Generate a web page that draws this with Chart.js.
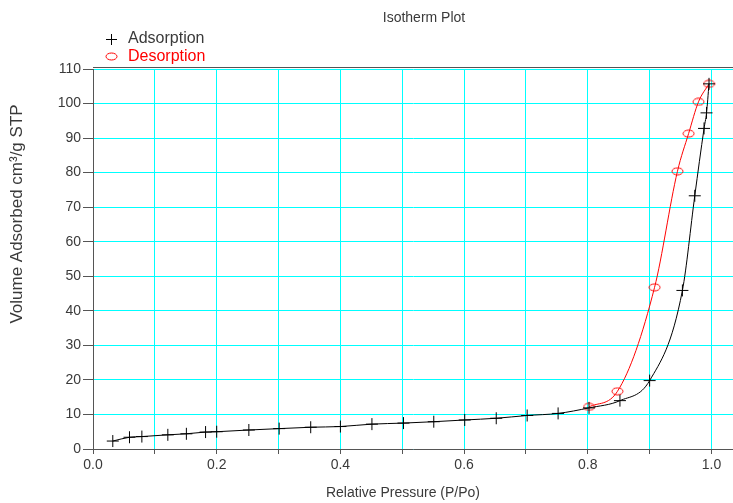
<!DOCTYPE html>
<html>
<head>
<meta charset="utf-8">
<title>Isotherm Plot</title>
<script src="https://cdn.jsdelivr.net/npm/chart.js@4.4.1/dist/chart.umd.min.js"></script>
<style>
    html, body { margin: 0; padding: 0; background: #fff; }
    #wrap { width: 733px; height: 503px; position: relative; }
</style>
</head>
<body>
<div id="wrap"><canvas id="isoChart"></canvas></div>
<script>
    var titleText = 'Isotherm Plot';
    var xTitle = 'Relative Pressure (P/Po)';
    var yTitle = 'Volume Adsorbed cm³/g STP';

    // Adsorption branch
    var adsPressure = [0.032, 0.059, 0.079, 0.121, 0.151, 0.182, 0.200, 0.252, 0.301, 0.352, 0.400, 0.451, 0.502,
        0.551, 0.601, 0.652, 0.702, 0.752, 0.802, 0.852, 0.900, 0.953, 0.973, 0.988, 0.992, 0.996];
    var adsVolume = [2.3, 3.4, 3.6, 4.1, 4.4, 4.9, 5.0, 5.5, 5.9, 6.3, 6.5, 7.2, 7.5,
        7.9, 8.4, 8.9, 9.7, 10.3, 11.9, 14.0, 19.8, 45.9, 73.3, 92.8, 97.3, 105.7];

    // Desorption branch
    var desPressure = [0.996, 0.979, 0.963, 0.945, 0.908, 0.848, 0.802];
    var desVolume = [105.7, 100.5, 91.3, 80.4, 46.8, 16.7, 12.2];

    var xTicks = [0, 0.1, 0.2, 0.3, 0.4, 0.5, 0.6, 0.7, 0.8, 0.9, 1.0];
    var xLabels = ['0.0', '', '0.2', '', '0.4', '', '0.6', '', '0.8', '', '1.0'];
    var yTicks = [0, 10, 20, 30, 40, 50, 60, 70, 80, 90, 100, 110];

    var FONT = '"Liberation Sans", Arial, sans-serif';
    var TEXT = '#3a3a3a';
    var AXIS = '#555555';
    var GRID = '#00ffff';

    function pairs(xs, ys) {
        return xs.map(function (x, i) { return { x: x, y: ys[i] }; });
    }

    // red open ellipse used as the desorption marker
    function ellipseMarker(w, h) {
        var c = document.createElement('canvas');
        c.width = w;
        c.height = h;
        var g = c.getContext('2d');
        g.strokeStyle = '#ff0000';
        g.lineWidth = 1;
        g.beginPath();
        g.ellipse(w / 2, h / 2, w / 2 - 1, h / 2 - 1, 0, 0, Math.PI * 2);
        g.stroke();
        return c;
    }
    var desMarker = ellipseMarker(13, 9);

    var decorations = {
        id: 'decorations',
        afterDraw: function (chart) {
            var ctx = chart.ctx;
            var area = chart.chartArea;
            ctx.save();

            // top frame line
            ctx.strokeStyle = AXIS;
            ctx.lineWidth = 1;
            ctx.beginPath();
            ctx.moveTo(area.left, area.top - 1.5);
            ctx.lineTo(area.right, area.top - 1.5);
            ctx.stroke();

            ctx.font = '14px ' + FONT;
            ctx.fillStyle = TEXT;
            ctx.textBaseline = 'middle';
            ctx.textAlign = 'center';
            ctx.fillText(titleText, 424, 18);
            ctx.fillText(xTitle, 403, 493);

            ctx.save();
            ctx.font = '17px ' + FONT;
            ctx.translate(17, 214);
            ctx.rotate(-Math.PI / 2);
            ctx.fillText(yTitle, 0, 0);
            ctx.restore();

            // legend
            ctx.font = '16px ' + FONT;
            ctx.textAlign = 'left';
            ctx.strokeStyle = '#000';
            ctx.beginPath();
            ctx.moveTo(106, 39.5);
            ctx.lineTo(117, 39.5);
            ctx.moveTo(111.5, 34);
            ctx.lineTo(111.5, 45);
            ctx.stroke();
            ctx.fillStyle = TEXT;
            ctx.fillText(chart.data.datasets[0].label, 128, 39);

            ctx.drawImage(desMarker, 105, 52);
            ctx.fillStyle = '#ff0000';
            ctx.fillText(chart.data.datasets[1].label, 128, 57);

            ctx.restore();
        }
    };

    var ctx = document.getElementById('isoChart').getContext('2d');
    var chart = new Chart(ctx, {
        type: 'scatter',
        data: {
            datasets: [
                {
                    label: 'Adsorption',
                    data: pairs(adsPressure, adsVolume),
                    showLine: true,
                    cubicInterpolationMode: 'monotone',
                    borderColor: '#000',
                    borderWidth: 1,
                    pointStyle: 'cross',
                    pointRadius: 6,
                    pointBorderColor: '#000',
                    pointBorderWidth: 1
                },
                {
                    label: 'Desorption',
                    data: pairs(desPressure, desVolume),
                    showLine: true,
                    cubicInterpolationMode: 'monotone',
                    borderColor: '#ff0000',
                    borderWidth: 1,
                    pointStyle: desMarker,
                    pointRadius: 6
                }
            ]
        },
        options: {
            responsive: true,
            maintainAspectRatio: false,
            animation: false,
            layout: {
                autoPadding: false,
                padding: { top: 69, right: 0, bottom: 0, left: 0 }
            },
            plugins: {
                legend: { display: false },
                title: { display: false },
                tooltip: { enabled: false }
            },
            scales: {
                x: {
                    type: 'linear',
                    min: 0,
                    max: 1.0348,
                    afterBuildTicks: function (scale) {
                        scale.ticks = xTicks.map(function (v) { return { value: v }; });
                    },
                    afterFit: function (scale) { scale.height = 54; },
                    border: { color: AXIS, width: 1 },
                    grid: { color: GRID, lineWidth: 1, tickColor: AXIS, tickLength: 5 },
                    ticks: {
                        autoSkip: false,
                        maxRotation: 0,
                        padding: 3,
                        color: TEXT,
                        font: { family: FONT, size: 14 },
                        callback: function (v, i) { return xLabels[i]; }
                    }
                },
                y: {
                    min: 0,
                    max: 110,
                    afterBuildTicks: function (scale) {
                        scale.ticks = yTicks.map(function (v) { return { value: v }; });
                    },
                    afterFit: function (scale) { scale.width = 93; },
                    border: { color: AXIS, width: 1 },
                    grid: { color: GRID, lineWidth: 1, tickColor: AXIS, tickLength: 10 },
                    ticks: {
                        padding: 2,
                        color: TEXT,
                        font: { family: FONT, size: 14 }
                    }
                }
            }
        },
        plugins: [decorations]
    });
</script>
</body>
</html>
